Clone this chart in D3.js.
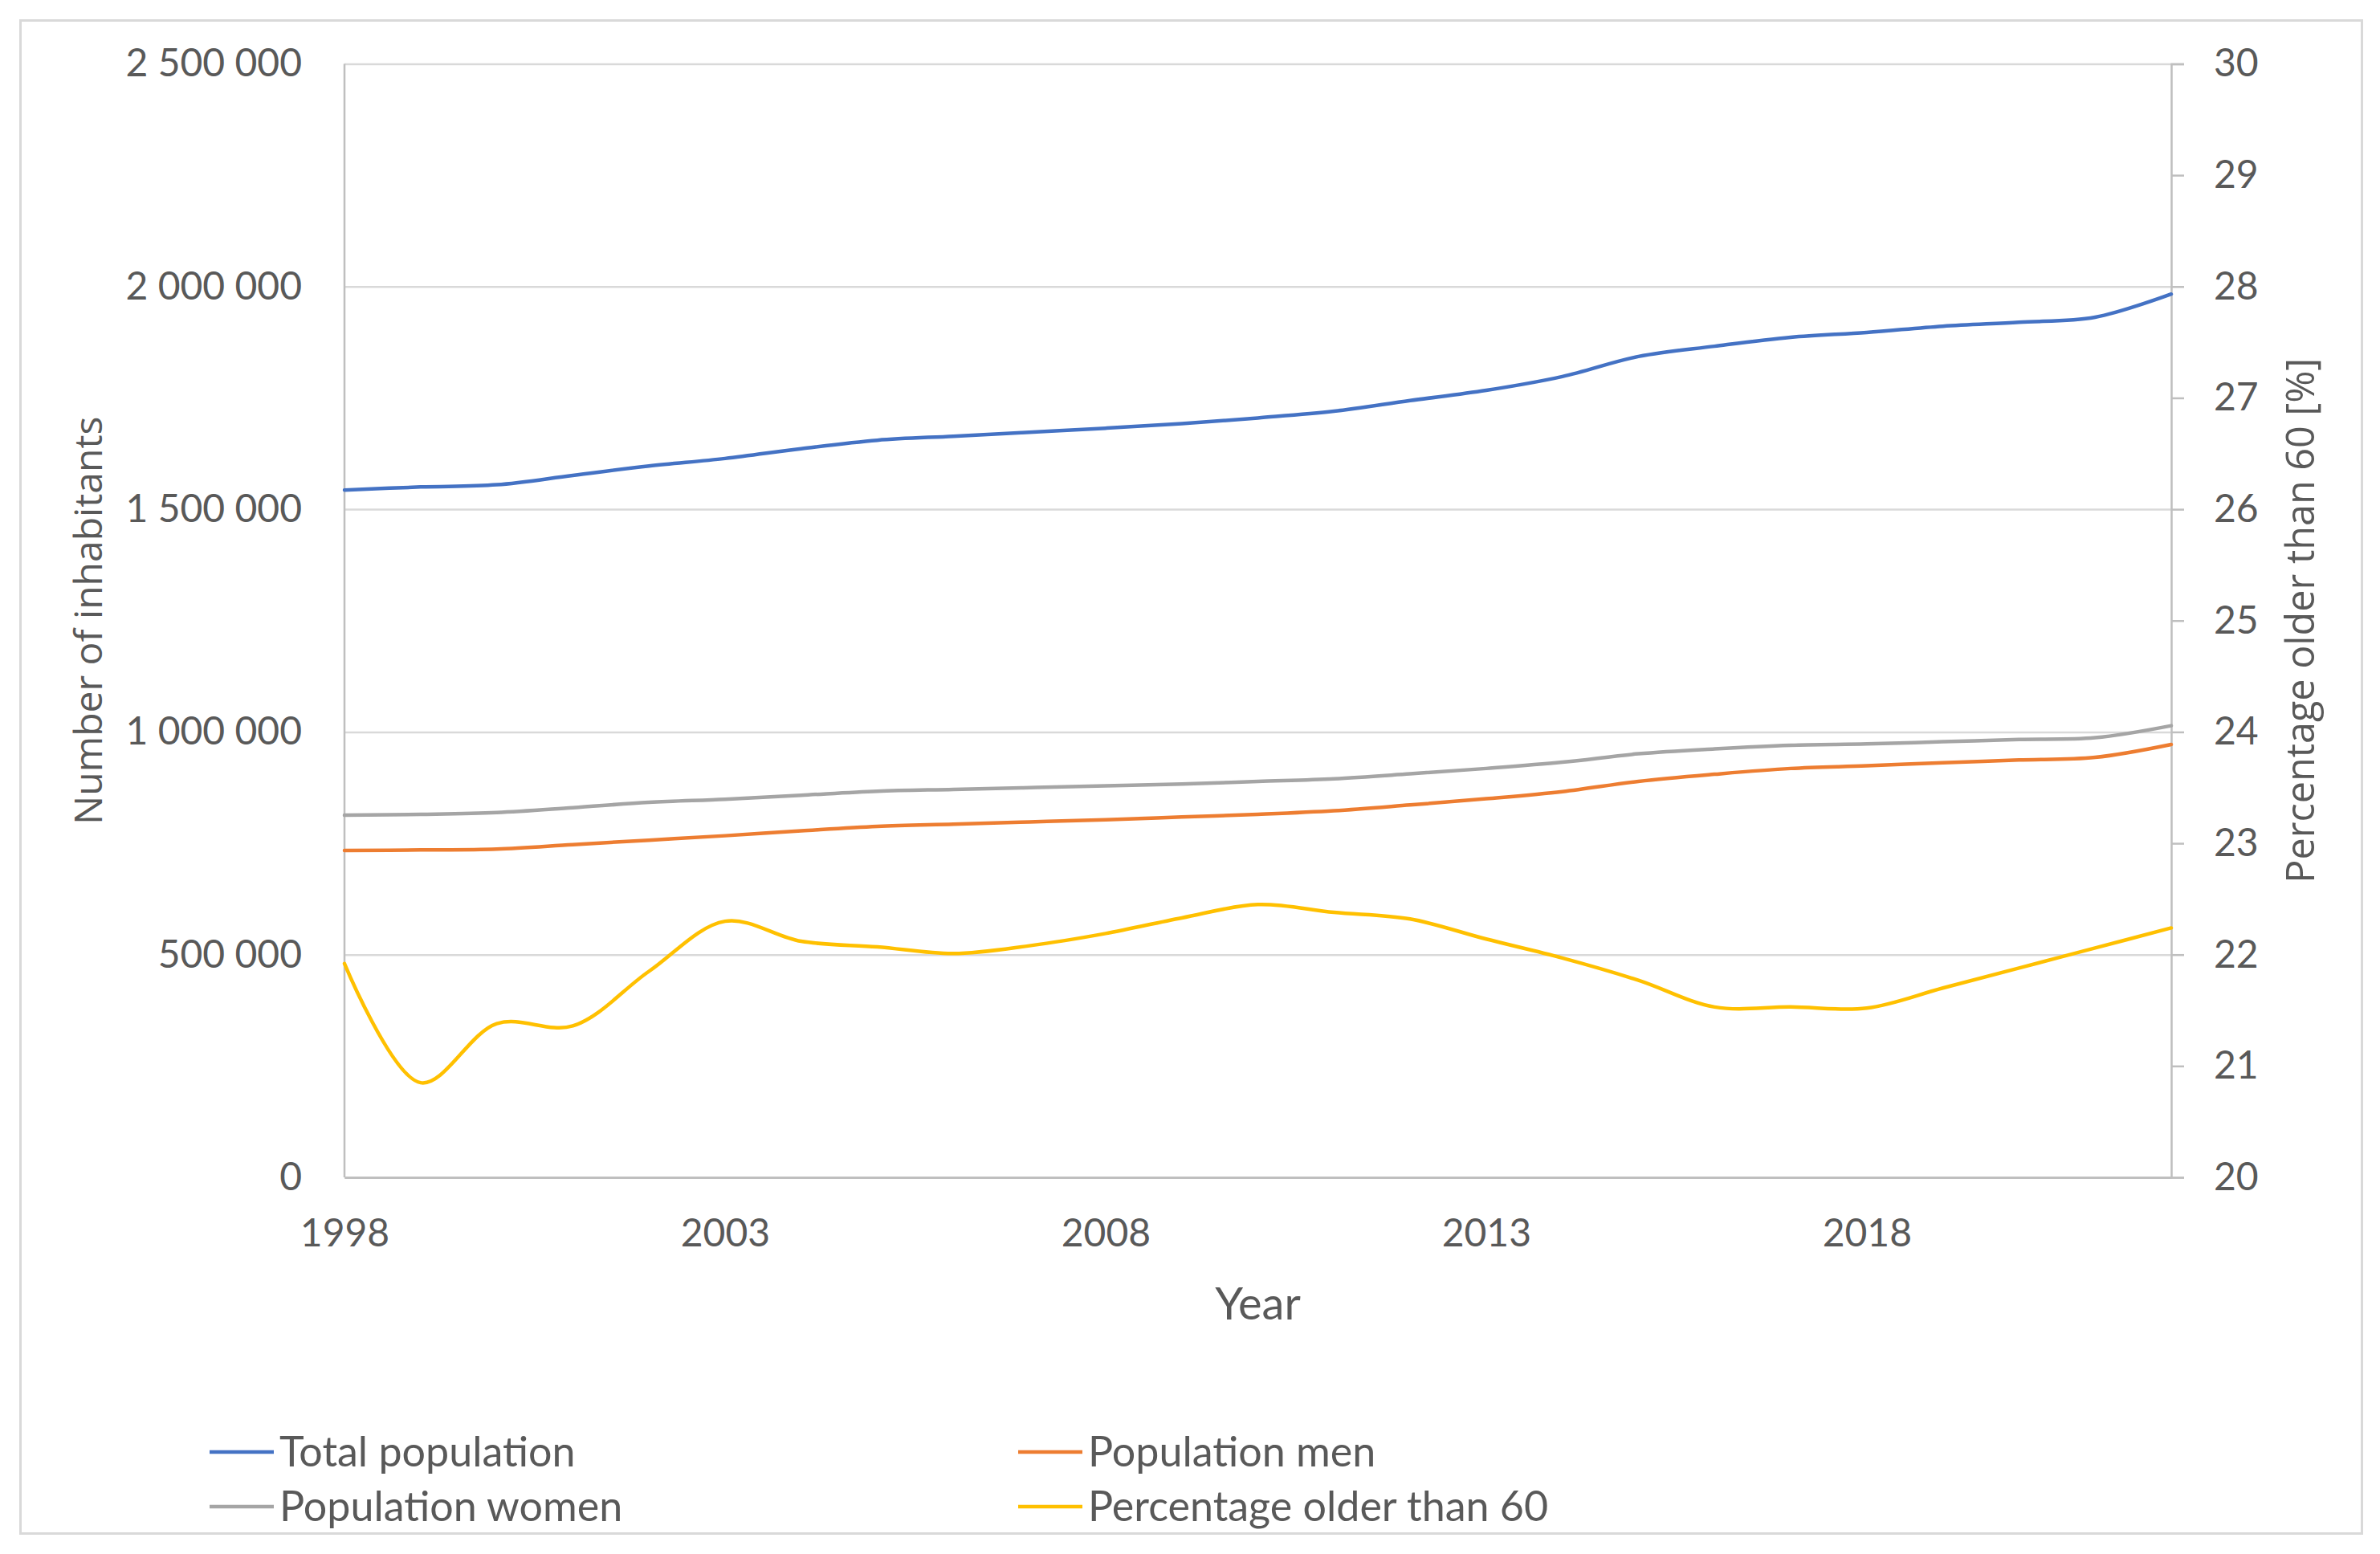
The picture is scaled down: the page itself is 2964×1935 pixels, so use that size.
<!DOCTYPE html>
<html>
<head>
<meta charset="utf-8">
<script src="https://cdn.jsdelivr.net/npm/d3@7"></script>
<style>
	body { margin: 0; background: #fff; }
	text { fill: #595959; }
</style>
</head>
<body>
<div id="chart"></div>
<script>
// data
var years = [1998, 1999, 2000, 2001, 2002, 2003, 2004, 2005, 2006, 2007, 2008, 2009, 2010,
	2011, 2012, 2013, 2014, 2015, 2016, 2017, 2018, 2019, 2020, 2021, 2022];
var totalPopulation = [1543000, 1550000, 1555000, 1576000, 1597000, 1614000, 1636000, 1655000, 1664000,
	1673000, 1682000, 1692000, 1705000, 1720000, 1744000, 1767000, 1798000, 1843000, 1866000,
	1886000, 1897000, 1911000, 1920000, 1931000, 1983000];
var populationMen = [734000, 735000, 737000, 747000, 757000, 767000, 778000, 788000, 793000, 798000,
	803000, 809000, 815000, 823000, 836000, 850000, 866000, 889000, 905000, 918000, 924000,
	931000, 937000, 943000, 972000];
var populationWomen = [813000, 815000, 819000, 830000, 842000, 849000, 858000, 867000, 871000, 875000,
	879000, 883000, 889000, 895000, 906000, 918000, 932000, 951000, 962000, 970000, 973000,
	978000, 983000, 987000, 1014000];
var percentOlder60 = [21.92, 20.85, 21.38, 21.36, 21.85, 22.30, 22.12, 22.07, 22.01, 22.08, 22.19,
	22.33, 22.45, 22.38, 22.32, 22.14, 21.97, 21.77, 21.53, 21.53, 21.52, 21.70, 21.88, 22.06, 22.24];
var xTicks = [1998, 2003, 2008, 2013, 2018];
var leftTicks = [0, 500000, 1000000, 1500000, 2000000, 2500000];
var rightTicks = [20, 21, 22, 23, 24, 25, 26, 27, 28, 29, 30];

var seriesNames = ["Total population", "Population men", "Population women", "Percentage older than 60"];
var seriesColors = ["#4472C4", "#ED7D31", "#A5A5A5", "#FFC000"];

var W = 2964, H = 1935;
var plot = { left: 429, right: 2704, top: 79.5, bottom: 1466 };
var tickFont = "Lato, 'Liberation Sans', sans-serif";
var titleFont = "'Open Sans', 'DejaVu Sans', sans-serif";

var svg = d3.select("#chart")
	.append("svg")
	.attr("width", W)
	.attr("height", H)
	.style("background", "#fff");

// outer frame
svg.append("rect")
	.attr("x", 25.5)
	.attr("y", 25.5)
	.attr("width", 2916)
	.attr("height", 1884)
	.attr("fill", "#fff")
	.attr("stroke", "#d9d9d9")
	.attr("stroke-width", 3);

var x = d3.scaleLinear().domain([1998, 2022]).range([plot.left, plot.right]);
var yLeft = d3.scaleLinear().domain([0, 2500000]).range([plot.bottom, plot.top]);
var yRight = d3.scaleLinear().domain([20, 30]).range([plot.bottom, plot.top]);

var fmt = function(d) { return d3.format(",")(d).replace(/,/g, " "); };

// gridlines + left labels
var leftAxis = svg.append("g")
	.attr("transform", "translate(" + plot.left + ",0)")
	.call(d3.axisLeft(yLeft).tickValues(leftTicks).tickSize(-(plot.right - plot.left)).tickPadding(53).tickFormat(fmt));
leftAxis.select(".domain").remove();
leftAxis.selectAll(".tick line").attr("stroke", "#d9d9d9").attr("stroke-width", 2.5);
leftAxis.selectAll(".tick text")
	.style("font-family", tickFont)
	.style("font-size", "48px")
	.attr("fill", "#595959");

// left axis line
svg.append("line")
	.attr("x1", plot.left).attr("x2", plot.left)
	.attr("y1", plot.top).attr("y2", plot.bottom)
	.attr("stroke", "#bfbfbf")
	.attr("stroke-width", 2.5);

// right axis
var rightAxis = svg.append("g")
	.attr("transform", "translate(" + plot.right + ",0)")
	.call(d3.axisRight(yRight).tickValues(rightTicks).tickSize(16).tickPadding(37).tickFormat(d3.format("d")));
rightAxis.select(".domain").attr("stroke", "#bfbfbf").attr("stroke-width", 2.5);
rightAxis.selectAll(".tick line").attr("stroke", "#bfbfbf").attr("stroke-width", 2.5);
rightAxis.selectAll(".tick text")
	.style("font-family", tickFont)
	.style("font-size", "48px")
	.attr("fill", "#595959");

// bottom axis
var bottomAxis = svg.append("g")
	.attr("transform", "translate(0," + plot.bottom + ")")
	.call(d3.axisBottom(x).tickValues(xTicks).tickSize(0).tickPadding(52).tickFormat(d3.format("d")));
bottomAxis.select(".domain").attr("stroke", "#bfbfbf").attr("stroke-width", 3);
bottomAxis.selectAll(".tick text")
	.style("font-family", tickFont)
	.style("font-size", "48px")
	.attr("fill", "#595959");

// lines
var leftSeries = [totalPopulation, populationMen, populationWomen];
leftSeries.forEach(function(values, i) {
	var line = d3.line()
		.x(function(d, j) { return x(years[j]); })
		.y(function(d) { return yLeft(d); })
		.curve(d3.curveCatmullRom.alpha(0.5));
	svg.append("path")
		.datum(values)
		.attr("d", line)
		.attr("fill", "none")
		.attr("stroke", seriesColors[i])
		.attr("stroke-width", 4.5)
		.attr("stroke-linecap", "round");
});
var pctLine = d3.line()
	.x(function(d, j) { return x(years[j]); })
	.y(function(d) { return yRight(d); })
	.curve(d3.curveCatmullRom.alpha(0.5));
svg.append("path")
	.datum(percentOlder60)
	.attr("d", pctLine)
	.attr("fill", "none")
	.attr("stroke", seriesColors[3])
	.attr("stroke-width", 4.5)
	.attr("stroke-linecap", "round");

// axis titles
svg.append("text")
	.attr("transform", "translate(127," + (plot.top + plot.bottom) / 2 + ") rotate(-90)")
	.attr("text-anchor", "middle")
	.style("font-family", titleFont)
	.style("font-size", "48px")
	.text("Number of inhabitants");
svg.append("text")
	.attr("transform", "translate(2882," + (plot.top + plot.bottom) / 2 + ") rotate(-90)")
	.attr("text-anchor", "middle")
	.style("font-family", titleFont)
	.style("font-size", "48.5px")
	.text("Percentage older than 60 [%]");
svg.append("text")
	.attr("x", (plot.left + plot.right) / 2)
	.attr("y", 1643)
	.attr("text-anchor", "middle")
	.style("font-family", tickFont)
	.style("font-size", "56px")
	.text("Year");

// legend, two columns
var legendPos = [[261, 1808], [1268, 1808], [261, 1876], [1268, 1876]];
var legendOrder = [0, 1, 2, 3];
legendOrder.forEach(function(s, i) {
	var g = svg.append("g").attr("transform", "translate(" + legendPos[i][0] + "," + legendPos[i][1] + ")");
	g.append("line")
		.attr("x1", 0).attr("x2", 80)
		.attr("y1", 0).attr("y2", 0)
		.attr("stroke", seriesColors[s])
		.attr("stroke-width", 4.5);
	g.append("text")
		.attr("x", 87)
		.attr("y", 0)
		.attr("dy", "0.35em")
		.style("font-family", tickFont)
		.style("font-size", "52px")
		.text(seriesNames[s]);
});
</script>
</body>
</html>
